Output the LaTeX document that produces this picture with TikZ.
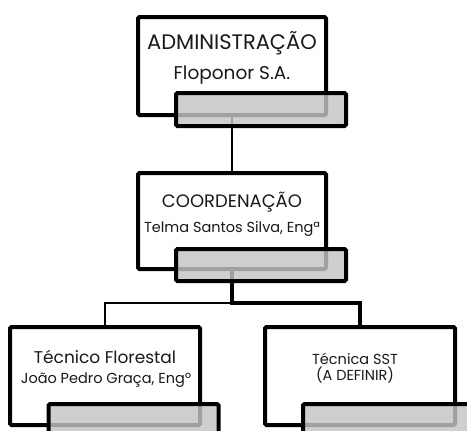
\documentclass[tikz,border=0pt]{standalone}
\usepackage{fontspec}
\setmainfont{Poppins}
\definecolor{shadegray}{RGB}{196,196,196}
\begin{document}
\begin{tikzpicture}[x=1pt,y=-1pt,
 box/.style={draw=black, line width=4pt, fill=white, rounded corners=1.5pt, inner sep=0pt, minimum width=#1},
 shadebox/.style={draw=black, line width=4pt, fill=shadegray, fill opacity=0.82, rounded corners=1.5pt, inner sep=0pt, minimum width=170pt},
 thinline/.style={line width=1.3pt},
 thickline/.style={line width=4pt},
 lbl/.style={inner sep=0pt, text=black!90, align=center}]
\useasboundingbox (0,0) rectangle (467,431);
\clip (0,0) rectangle (467,431);
% white boxes
\node[box=188pt, minimum height=98pt] (top) at (232,66) {};
\node[box=188pt, minimum height=96pt] (mid) at (232,221) {};
\node[box=190pt, minimum height=98pt] (left) at (105,376) {};
\node[box=190pt, minimum height=98pt] (right) at (360,376) {};
% connectors
\coordinate (j) at (232,303);
\draw[thinline] (top.south) -- (mid.north);
\draw[thickline] (mid.south) -- (j) -| (right.north);
\draw[thinline] (j) -| (left.north);
% texts
\node[lbl, font=\fontsize{21}{24}\selectfont] (t1) at (232,43) {ADMINISTRAÇÃO};
\node[lbl, font=\fontsize{18.5}{22}\selectfont] (t2) at (232,75) {Floponor S.A.};
\node[lbl, font=\fontsize{18}{21}\selectfont] (m1) at (232,202) {COORDENAÇÃO};
\node[lbl, font=\fontsize{14.5}{17}\selectfont] (m2) at (232,229) {Telma Santos Silva, Engª};
\node[lbl, font=\fontsize{17}{20}\selectfont] (l1) at (105,357) {Técnico Florestal};
\node[lbl, font=\fontsize{14.5}{17}\selectfont] (l2) at (106,380) {João Pedro Graça, Engº};
\node[lbl, font=\fontsize{14.5}{16.5}\selectfont] (r1) at (355,368) {Técnica SST\\(A DEFINIR)};
% shaded boxes
\node[shadebox, minimum height=33pt] (topg) at (261,109.5) {};
\node[shadebox, minimum height=32pt] (midg) at (261,265) {};
\node[shadebox, minimum height=34pt] (leftg) at (133.5,421) {};
\node[shadebox, minimum height=34pt] (rightg) at (388,421) {};
\end{tikzpicture}
\end{document}
